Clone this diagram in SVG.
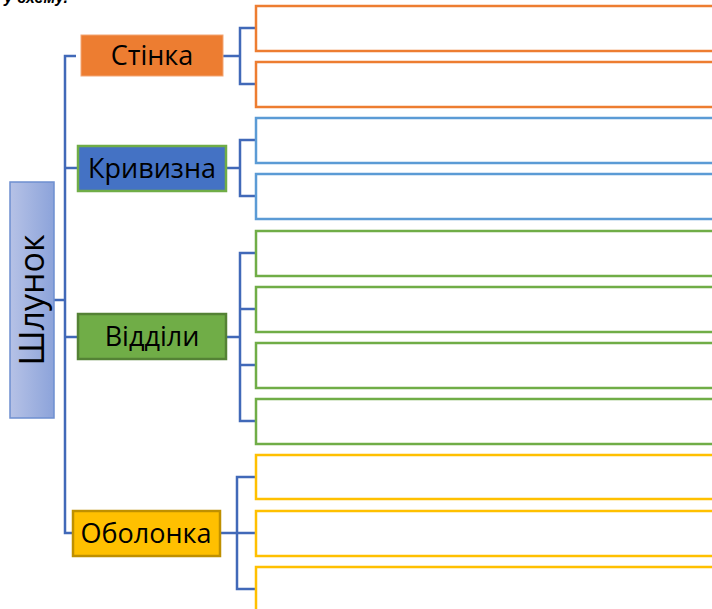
<svg xmlns="http://www.w3.org/2000/svg" width="712" height="609" viewBox="0 0 712 609">
<defs>
<linearGradient id="g" x1="0" y1="0" x2="1" y2="0">
<stop offset="0" stop-color="#B6C2E6"/>
<stop offset="1" stop-color="#8CA3DA"/>
</linearGradient>
</defs>
<style>
.lbl{font-family:"Open Sans","Liberation Sans",sans-serif;font-size:27px;fill:#000;text-anchor:middle}
.c{fill:none;stroke:#4169B8;stroke-width:2.5}
.o{fill:none;stroke:#ED7D31;stroke-width:2.5}
.b{fill:none;stroke:#5B9BD5;stroke-width:2.5}
.gr{fill:none;stroke:#70AD47;stroke-width:2.5}
.y{fill:none;stroke:#FFC000;stroke-width:2.5}
</style>
<rect width="712" height="609" fill="#fff"/>
<text x="4" y="3" font-family="Liberation Sans, sans-serif" font-size="16" font-style="italic" font-weight="bold">у схему.</text>
<g id="connectors">
<path class="c" d="M54 300H65M76 56H65V533H72M65 168H77M65 337H77"/>
<path class="c" d="M223 56H240M255 28H240V84H255"/>
<path class="c" d="M227 168H240M255 140H240V196H255"/>
<path class="c" d="M227 337H240M255 253H240V421H255M240 309H255M240 365H255"/>
<path class="c" d="M221 533H237M255 477H237V589H255M237 533H255"/>
</g>
<g id="root">
<rect x="10" y="182" width="44" height="236" fill="url(#g)" stroke="#6E8FD0" stroke-width="1.5"/>
<text class="lbl" transform="translate(44,300) rotate(-90)" style="font-size:34px">Шлунок</text>
</g>
<g id="stinka">
<rect x="81" y="35" width="142" height="41" fill="#ED7D31" stroke="#F3A674" stroke-width="1"/>
<text class="lbl" x="152" y="65">Стінка</text>
</g>
<g id="kryvyzna">
<rect x="78" y="146" width="148" height="45" fill="#4472C4" stroke="#70AD47" stroke-width="2.5"/>
<text class="lbl" x="152" y="178">Кривизна</text>
</g>
<g id="viddily">
<rect x="78" y="314" width="148" height="45" fill="#70AD47" stroke="#548235" stroke-width="2.5"/>
<text class="lbl" x="152" y="346">Відділи</text>
</g>
<g id="obolonka">
<rect x="73" y="511" width="147" height="45" fill="#FFC000" stroke="#BF9000" stroke-width="2.5"/>
<text class="lbl" x="146" y="543">Оболонка</text>
</g>
<g id="s1"><rect class="o" x="256" y="6" width="500" height="45"/></g>
<g id="s2"><rect class="o" x="256" y="62" width="500" height="45"/></g>
<g id="k1"><rect class="b" x="256" y="118" width="500" height="45"/></g>
<g id="k2"><rect class="b" x="256" y="174" width="500" height="45"/></g>
<g id="v1"><rect class="gr" x="256" y="231" width="500" height="45"/></g>
<g id="v2"><rect class="gr" x="256" y="287" width="500" height="45"/></g>
<g id="v3"><rect class="gr" x="256" y="343" width="500" height="45"/></g>
<g id="v4"><rect class="gr" x="256" y="399" width="500" height="45"/></g>
<g id="o1"><rect class="y" x="256" y="455" width="500" height="44"/></g>
<g id="o2"><rect class="y" x="256" y="511" width="500" height="45"/></g>
<g id="o3"><rect class="y" x="256" y="567" width="500" height="60"/></g>
</svg>
